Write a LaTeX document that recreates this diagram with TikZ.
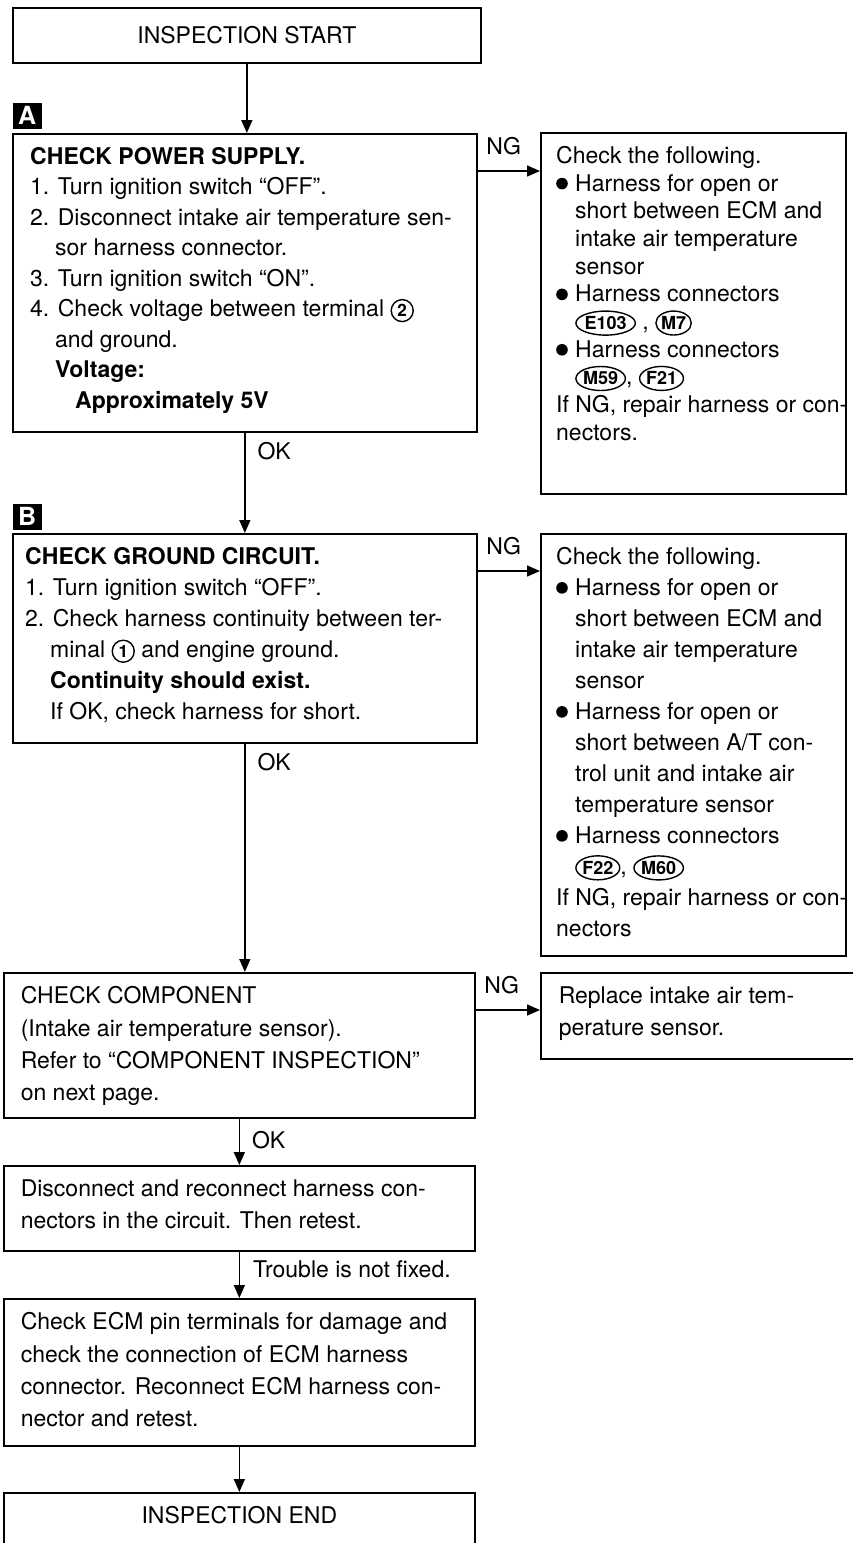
\documentclass[tikz,border=0pt]{standalone}
\usepackage{fontspec}
\setmainfont{TeX Gyre Heros}
\usepackage{tikz}
\usetikzlibrary{arrows.meta,shapes.geometric,positioning}
\newcommand{\txtA}{\fontsize{23}{27.7}\selectfont}
\newcommand{\txtP}{\fontsize{23}{30.5}\selectfont}
\newcommand{\txtB}{\fontsize{23}{31}\selectfont}
\newcommand{\txtC}{\fontsize{23}{32.3}\selectfont}
% harness connector and terminal marks
\newcommand{\conn}[1]{\tikz[baseline=(#1.base)]\node[conn] (#1) {#1};}
\newcommand{\term}[1]{\tikz[baseline=(t#1.base)]\node[term] (t#1) {#1};}
\newcommand{\dotitem}{\makebox[19pt][l]{\tikz[baseline=-7.5pt]\fill (0,0) circle (5.8pt);}}
\newcommand{\ind}{\hspace*{19pt}}
\tikzset{
  every picture/.style = {
    line width = 1.5pt,
    >= {Triangle[length=13pt,width=11pt]},
  }
  ,
  flowbox/.style = {
    rectangle,
    draw,
    line width = 1.7pt,
    anchor = north west,
    inner sep = 0pt
  }
  ,
  flowtext/.style = {
    anchor = north west,
    inner sep = 0pt,
    align = left
  }
  ,
  tagbox/.style = {
    rectangle,
    fill = black,
    text = white,
    anchor = north west,
    inner sep = 0pt,
    minimum width = 29pt,
    minimum height = 26pt,
    font = \fontsize{25}{25}\selectfont\bfseries
  }
  , % labels of edges
  label-edge/.style = {
    inner sep = 0pt,
    font = \txtB
  }
  ,
  conn/.style = {
    ellipse,
    draw,
    line width = 1.4pt,
    inner xsep = 0pt,
    inner ysep = 0pt,
    minimum height = 24pt,
    font = \fontsize{18}{18}\selectfont\bfseries
  }
  ,
  term/.style = {
    circle,
    draw,
    line width = 1.4pt,
    inner sep = 1pt,
    minimum size = 22pt,
    font = \fontsize{17}{17}\selectfont\bfseries
  }
}
\begin{document}
\begin{tikzpicture}[x=1pt, y=1pt]
\useasboundingbox (0,0) rectangle (853,-1543);
\clip (0,0) rectangle (853,-1543);

% main column
\node[flowbox, minimum width=468, minimum height=55, font=\txtA] (start) at (12,-7) {INSPECTION START};

\node[tagbox] (tagA) at (12,-102) {A};
\node[flowbox, minimum width=464, minimum height=298] (power) at (12,-133) {};
\node[flowtext, font=\txtP] (power-t) at ([shift={(18,-14)}]power.north west) {%
  {\bfseries CHECK POWER SUPPLY.}\\
  1. Turn ignition switch “OFF”.\\
  2. Disconnect intake air temperature sen-\\
  \hspace*{25pt}sor harness connector.\\
  3. Turn ignition switch “ON”.\\
  4. Check voltage between terminal \term{2}\\
  \hspace*{25pt}and ground.\\
  \hspace*{25pt}{\bfseries Voltage:}\\
  \hspace*{45pt}{\bfseries Approximately 5V}};

\node[tagbox] (tagB) at (12,-503) {B};
\node[flowbox, minimum width=464, minimum height=209] (ground) at (12,-533) {};
\node[flowtext, font=\txtB] (ground-t) at ([shift={(13,-14)}]ground.north west) {%
  {\bfseries CHECK GROUND CIRCUIT.}\\
  1. Turn ignition switch “OFF”.\\
  2. Check harness continuity between ter-\\
  \hspace*{25pt}minal \term{1} and engine ground.\\
  \hspace*{25pt}{\bfseries Continuity should exist.}\\
  \hspace*{25pt}If OK, check harness for short.};

\node[flowbox, minimum width=471, minimum height=145] (comp) at (3,-972) {};
\node[flowtext, font=\txtC] (comp-t) at ([shift={(17,-14)}]comp.north west) {%
  CHECK COMPONENT\\
  (Intake air temperature sensor).\\
  Refer to “COMPONENT INSPECTION”\\
  on next page.};

\node[flowbox, minimum width=471, minimum height=85] (recon) at (3,-1165) {};
\node[flowtext, font=\txtC] (recon-t) at ([shift={(17,-14)}]recon.north west) {%
  Disconnect and reconnect harness con-\\
  nectors in the circuit. Then retest.};

\node[flowbox, minimum width=471, minimum height=147] (ecm) at (3,-1298) {};
\node[flowtext, font=\txtC] (ecm-t) at ([shift={(17,-14)}]ecm.north west) {%
  Check ECM pin terminals for damage and\\
  check the connection of ECM harness\\
  connector. Reconnect ECM harness con-\\
  nector and retest.};

\node[flowbox, minimum width=471, minimum height=90] (finish) at (3,-1492) {};
\node[font=\txtC, inner sep=0pt] (finish-t) at ([yshift=-23]finish.north) {INSPECTION END};

% repair boxes on the right
\node[flowbox, minimum width=305, minimum height=361] (fixA) at (540,-132) {};
\node[flowtext, font=\txtA] (fixA-t) at ([shift={(16,-14)}]fixA.north west) {%
  Check the following.\\
  \dotitem Harness for open or\\
  \ind short between ECM and\\
  \ind intake air temperature\\
  \ind sensor\\
  \dotitem Harness connectors\\
  \ind\conn{E103} , \conn{M7}\\
  \dotitem Harness connectors\\
  \ind\conn{M59}, \conn{F21}\\
  If NG, repair harness or con-\\
  nectors.};

\node[flowbox, minimum width=305, minimum height=422] (fixB) at (540,-533) {};
\node[flowtext, font=\txtB] (fixB-t) at ([shift={(16,-14)}]fixB.north west) {%
  Check the following.\\
  \dotitem Harness for open or\\
  \ind short between ECM and\\
  \ind intake air temperature\\
  \ind sensor\\
  \dotitem Harness for open or\\
  \ind short between A/T con-\\
  \ind trol unit and intake air\\
  \ind temperature sensor\\
  \dotitem Harness connectors\\
  \ind\conn{F22}, \conn{M60}\\
  If NG, repair harness or con-\\
  nectors};

\node[flowbox, minimum width=340, minimum height=86] (repl) at (540,-972) {};
\node[flowtext, font=\txtC] (repl-t) at ([shift={(18,-14)}]repl.north west) {%
  Replace intake air tem-\\
  perature sensor.};

% OK path
\draw[->] (start.south) -- (start.south |- power.north);
\draw[->] (power.south) -- (power.south |- ground.north);
\node[label-edge, anchor=north west] (okA) at ([shift={(12,-9)}]power.south) {OK};
\draw[->] (ground.south) -- (ground.south |- comp.north);
\node[label-edge, anchor=north west] (okB) at ([shift={(12,-9)}]ground.south) {OK};
\draw[->] (comp.south) -- (comp.south |- recon.north);
\node[label-edge, anchor=north west] (okC) at ([shift={(12,-12)}]comp.south) {OK};
\draw[->] (recon.south) -- (recon.south |- ecm.north);
\node[label-edge, anchor=north west] (trouble) at ([shift={(13,-8)}]recon.south) {Trouble is not fixed.};
\draw[->] (ecm.south) -- (ecm.south |- finish.north);

% NG path
\coordinate (ngA) at ([yshift=-38]power.north east);
\draw[->] (ngA) -- (ngA -| fixA.west);
\node[label-edge, anchor=south west] (ngA-t) at ([shift={(8,15)}]ngA) {NG};
\coordinate (ngB) at ([yshift=-38]ground.north east);
\draw[->] (ngB) -- (ngB -| fixB.west);
\node[label-edge, anchor=south west] (ngB-t) at ([shift={(8,15)}]ngB) {NG};
\coordinate (ngC) at ([yshift=-38]comp.north east);
\draw[->] (ngC) -- (ngC -| repl.west);
\node[label-edge, anchor=south west] (ngC-t) at ([shift={(8,15)}]ngC) {NG};
\end{tikzpicture}
\end{document}
